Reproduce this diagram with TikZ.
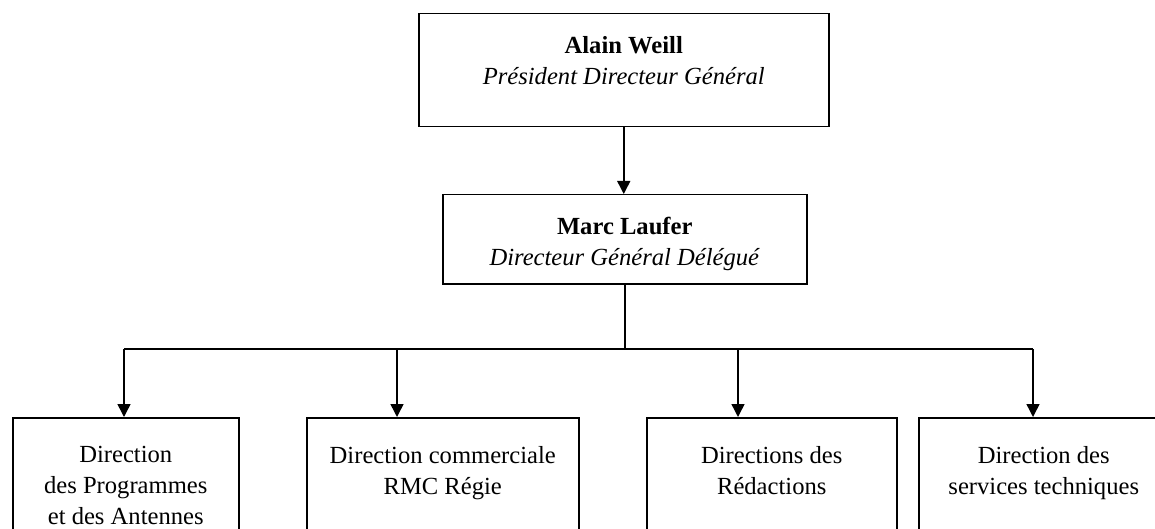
\documentclass[tikz,border=0pt]{standalone}
\usepackage{fontspec}
\setmainfont{Liberation Serif}
\usetikzlibrary{arrows.meta}

\begin{document}
\begin{tikzpicture}[x=0.5pt,y=-0.5pt,
  box/.style={draw,line width=0.75pt,inner sep=0pt,anchor=north west},
  lbl/.style={anchor=north,inner sep=0pt,align=center,font=\fontsize{12.3}{15.5}\selectfont},
  arr/.style={-{Triangle[width=6.5pt,length=6.5pt]},line width=0.75pt}]
   \useasboundingbox (0,0) rectangle (1155,529);
   \clip (0,0) rectangle (1155,529);

   % direction generale
   \node[box,minimum width=205pt,minimum height=56.5pt] (pdg) at (418,13) {};
   \node[lbl] (pdgtxt) at ([yshift=-11.5pt]pdg.north)
     {\textbf{Alain Weill}\\\textit{Président Directeur Général}};
   \node[box,minimum width=182pt,minimum height=44.5pt] (dgd) at (442,194) {};
   \node[lbl] (dgdtxt) at ([yshift=-11.5pt]dgd.north)
     {\textbf{Marc Laufer}\\\textit{Directeur Général Délégué}};

   % les directions
   \node[box,minimum width=113pt,minimum height=75pt] (prog) at (12,417) {};
   \node[box,minimum width=136pt,minimum height=75pt] (comm) at (306,417) {};
   \node[box,minimum width=125pt,minimum height=75pt] (redac) at (646,417) {};
   \node[box,minimum width=125pt,minimum height=75pt] (tech) at (918,417) {};
   \node[lbl] (progtxt) at ([yshift=-14.5pt]prog.north)
     {Direction\\des Programmes\\et des Antennes};
   \node[lbl] (commtxt) at ([yshift=-14.5pt]comm.north)
     {Direction commerciale\\RMC Régie};
   \node[lbl] (redactxt) at ([yshift=-14.5pt]redac.north)
     {Directions des\\Rédactions};
   \node[lbl] (techtxt) at ([yshift=-14.5pt]tech.north)
     {Direction des\\services techniques};

   \draw[arr] (pdg.south) -- (pdg.south |- dgd.north);

   \coordinate (b1) at (124,349);
   \coordinate (b2) at (397,349);
   \coordinate (b3) at (738,349);
   \coordinate (b4) at (1033,349);
   \draw[line width=0.75pt] (dgd.south) -- (dgd.south |- b1);
   \draw[line width=0.75pt] (b1) -- (b4);
   \draw[arr] (b1) -- (b1 |- prog.north);
   \draw[arr] (b2) -- (b2 |- comm.north);
   \draw[arr] (b3) -- (b3 |- redac.north);
   \draw[arr] (b4) -- (b4 |- tech.north);
 \end{tikzpicture}
\end{document}
